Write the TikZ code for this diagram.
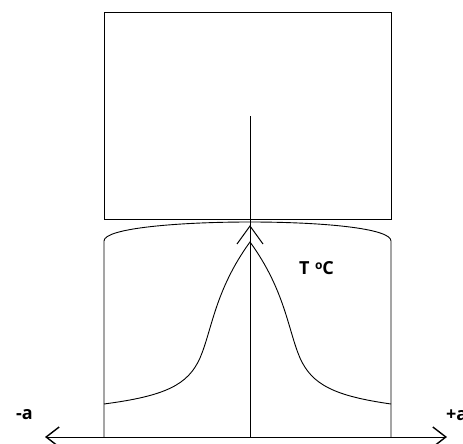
\documentclass[tikz,border=0pt]{standalone}
\usepackage{fontspec}
\setmainfont{Open Sans}
\usetikzlibrary{arrows.meta}
\begin{document}
\begin{tikzpicture}[x=1pt,y=-1pt,
  ln/.style={line width=0.9pt, black},
  lbl/.style={font=\bfseries\fontsize{18}{20}\selectfont, inner sep=0pt}]
\useasboundingbox (0,0) rectangle (463,444);
% top block
\draw[ln] (104,12) rectangle (391,219);
% lower block
\draw[ln] (104,437) -- (104,241) .. controls (104,228) and (180,222) .. (250,222)
  .. controls (320,222) and (391,228) .. (391,241) -- (391,437);
% central line
\coordinate (ctop) at (250,116);
\coordinate (cbot) at (250,437);
\draw[ln] (ctop) -- (cbot);
% chevron at top
\draw[ln, line width=1pt] (237,244) -- (250,226) -- (263,244);
% bell curve
\draw[ln] (104,404) .. controls (165,396) and (188,385) .. (200,358)
  .. controls (212,330) and (215,290) .. (250,242)
  .. controls (285,290) and (288,330) .. (300,358)
  .. controls (312,385) and (335,396) .. (391,404);
% axis
\coordinate (al) at (45,437);
\coordinate (ar) at (447,437);
\draw[ln, {Straight Barb[length=13pt,width=20pt,line width=1.4pt]}-{Straight Barb[length=13pt,width=20pt,line width=1.4pt]}] (al) -- (ar);
% labels
\node[lbl, anchor=west] (tc) at (299,268) {T\hspace{0.3em}\raisebox{0.3em}{\fontsize{12}{12}\selectfont o}C};
\node[lbl, anchor=west] (ma) at (16,415) {-a};
\node[lbl, anchor=west] (pa) at (446,415) {+a};
\end{tikzpicture}
\end{document}
